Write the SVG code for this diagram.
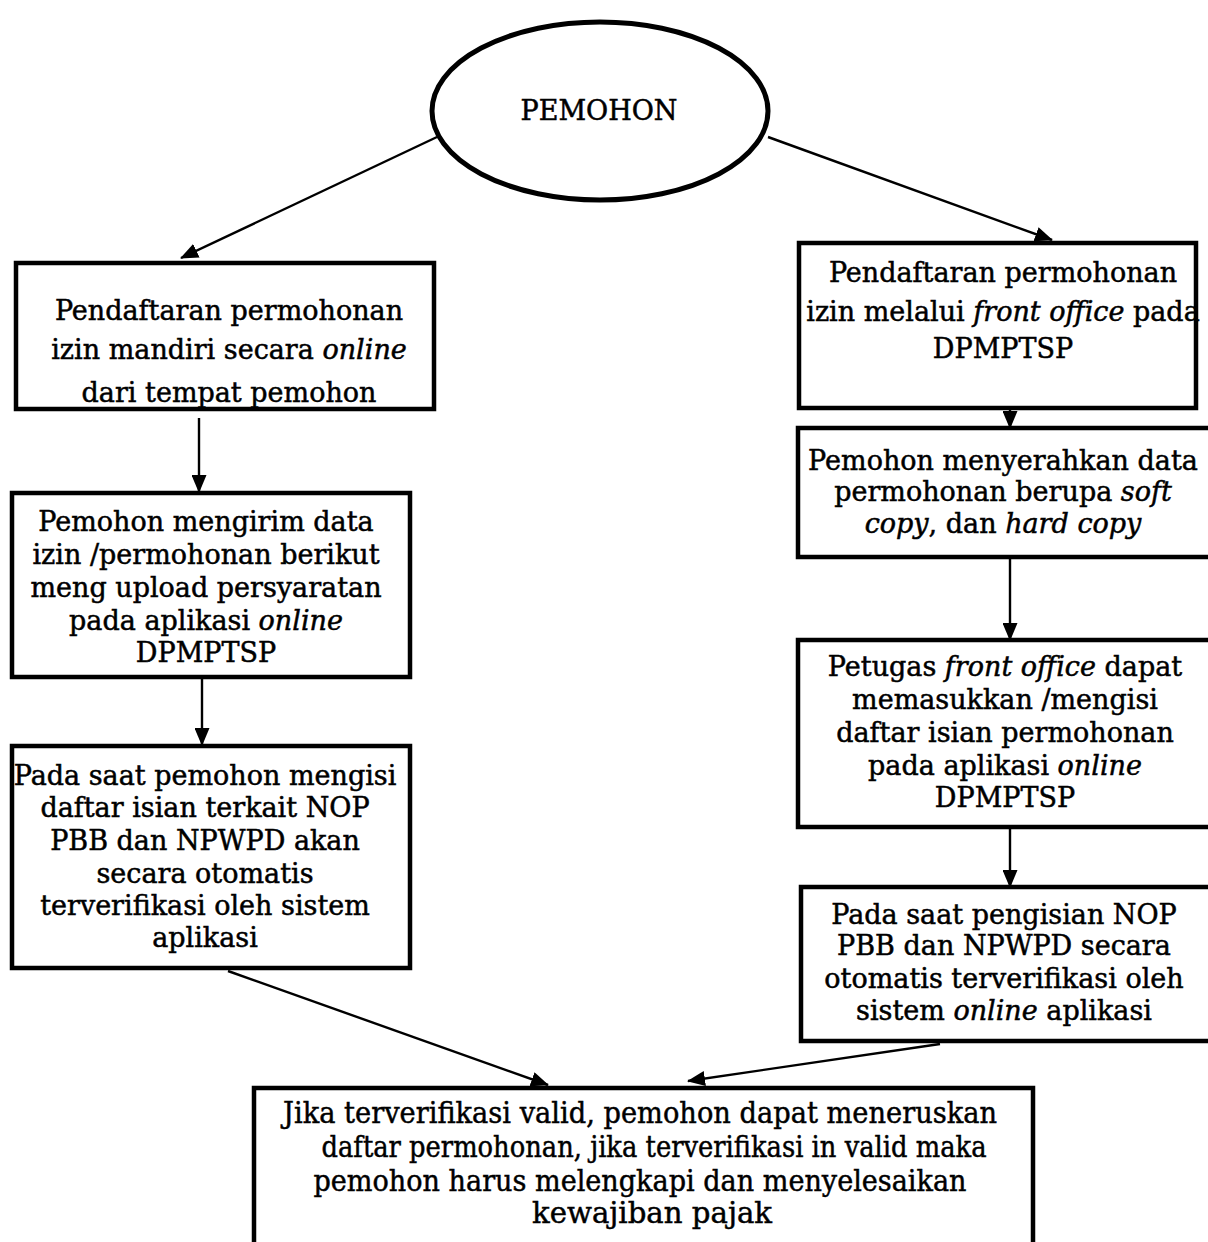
<svg xmlns="http://www.w3.org/2000/svg" width="1208" height="1242" viewBox="0 0 1208 1242">
<style>
.box{fill:#fff;stroke:#000;stroke-width:4.5}
.t{font-family:"DejaVu Serif","Liberation Serif",serif;font-size:27px;fill:#000;stroke:#000;stroke-width:0.5;text-anchor:middle}
.tb{font-family:"DejaVu Serif","Liberation Serif",serif;font-size:30px;fill:#000;stroke:#000;stroke-width:0.5;text-anchor:middle}
.i{font-style:italic}
.c{stroke:#000;stroke-width:2.4;fill:none;marker-end:url(#ah)}
</style>
<defs>
<marker id="ah" viewBox="0 0 18 15" refX="17" refY="7.5" markerWidth="18" markerHeight="15" orient="auto" markerUnits="userSpaceOnUse">
<path d="M0,0 L18,7.5 L0,15 z" fill="#000"/>
</marker>
</defs>
<rect width="1208" height="1242" fill="#fff"/>
<g id="connectors">
<line class="c" x1="437" y1="137" x2="181" y2="258"/>
<line class="c" x1="768" y1="137" x2="1052" y2="240"/>
<line class="c" x1="199" y1="418" x2="199" y2="492"/>
<line class="c" x1="202" y1="679" x2="202" y2="745"/>
<line class="c" x1="228" y1="971" x2="548" y2="1085"/>
<line class="c" x1="1010" y1="410" x2="1010" y2="428"/>
<line class="c" x1="1010" y1="559" x2="1010" y2="640"/>
<line class="c" x1="1010" y1="829" x2="1010" y2="887"/>
<line class="c" x1="940" y1="1044" x2="688" y2="1081"/>
</g>
<g id="pemohon">
<ellipse cx="600" cy="111" rx="168" ry="89" fill="#fff" stroke="#000" stroke-width="5"/>
<text class="t" x="599" y="120">PEMOHON</text>
</g>
<g id="left1">
<text class="t" x="229" y="320">Pendaftaran permohonan</text>
<text class="t" x="229" y="359">izin mandiri secara <tspan class="i">online</tspan></text>
<text class="t" x="229" y="402">dari tempat pemohon</text>
<rect class="box" x="16" y="263" width="418" height="146" style="fill:none"/>
</g>
<g id="left2">
<rect class="box" x="12" y="493" width="398" height="184"/>
<text class="t" x="206" y="531">Pemohon mengirim data</text>
<text class="t" x="206" y="564">izin /permohonan berikut</text>
<text class="t" x="206" y="597">meng upload persyaratan</text>
<text class="t" x="206" y="630">pada aplikasi <tspan class="i">online</tspan></text>
<text class="t" x="206" y="662">DPMPTSP</text>
</g>
<g id="left3">
<rect class="box" x="12" y="746" width="398" height="222"/>
<text class="t" x="205" y="785">Pada saat pemohon mengisi</text>
<text class="t" x="205" y="817">daftar isian terkait NOP</text>
<text class="t" x="205" y="850">PBB dan NPWPD akan</text>
<text class="t" x="205" y="883">secara otomatis</text>
<text class="t" x="205" y="915">terverifikasi oleh sistem</text>
<text class="t" x="205" y="947">aplikasi</text>
</g>
<g id="right1">
<rect class="box" x="799" y="243" width="397" height="165"/>
<text class="t" x="1003" y="282">Pendaftaran permohonan</text>
<text class="t" x="1003" y="321">izin melalui <tspan class="i">front office</tspan> pada</text>
<text class="t" x="1003" y="358">DPMPTSP</text>
</g>
<g id="right2">
<rect class="box" x="798" y="428" width="420" height="129"/>
<text class="t" x="1003" y="470">Pemohon menyerahkan data</text>
<text class="t" x="1003" y="501">permohonan berupa <tspan class="i">soft</tspan></text>
<text class="t" x="1003" y="533"><tspan class="i">copy</tspan>, dan <tspan class="i">hard copy</tspan></text>
</g>
<g id="right3">
<rect class="box" x="798" y="640" width="420" height="187"/>
<text class="t" x="1005" y="676">Petugas <tspan class="i">front office</tspan> dapat</text>
<text class="t" x="1005" y="709">memasukkan /mengisi</text>
<text class="t" x="1005" y="742">daftar isian permohonan</text>
<text class="t" x="1005" y="775">pada aplikasi <tspan class="i">online</tspan></text>
<text class="t" x="1005" y="807">DPMPTSP</text>
</g>
<g id="right4">
<rect class="box" x="801" y="887" width="420" height="154"/>
<text class="t" x="1004" y="924">Pada saat pengisian NOP</text>
<text class="t" x="1004" y="955">PBB dan NPWPD secara</text>
<text class="t" x="1004" y="988">otomatis terverifikasi oleh</text>
<text class="t" x="1004" y="1020">sistem <tspan class="i">online</tspan> aplikasi</text>
</g>
<g id="result">
<rect class="box" x="254" y="1088" width="779" height="170"/>
<text class="tb" x="640" y="1123" textLength="714" lengthAdjust="spacingAndGlyphs">Jika terverifikasi valid, pemohon dapat meneruskan</text>
<text class="tb" x="654" y="1157" textLength="665" lengthAdjust="spacingAndGlyphs">daftar permohonan, jika terverifikasi in valid maka</text>
<text class="tb" x="640" y="1191" textLength="653" lengthAdjust="spacingAndGlyphs">pemohon harus melengkapi dan menyelesaikan</text>
<text class="tb" x="652" y="1223" textLength="240" lengthAdjust="spacingAndGlyphs">kewajiban pajak</text>
</g>
</svg>
